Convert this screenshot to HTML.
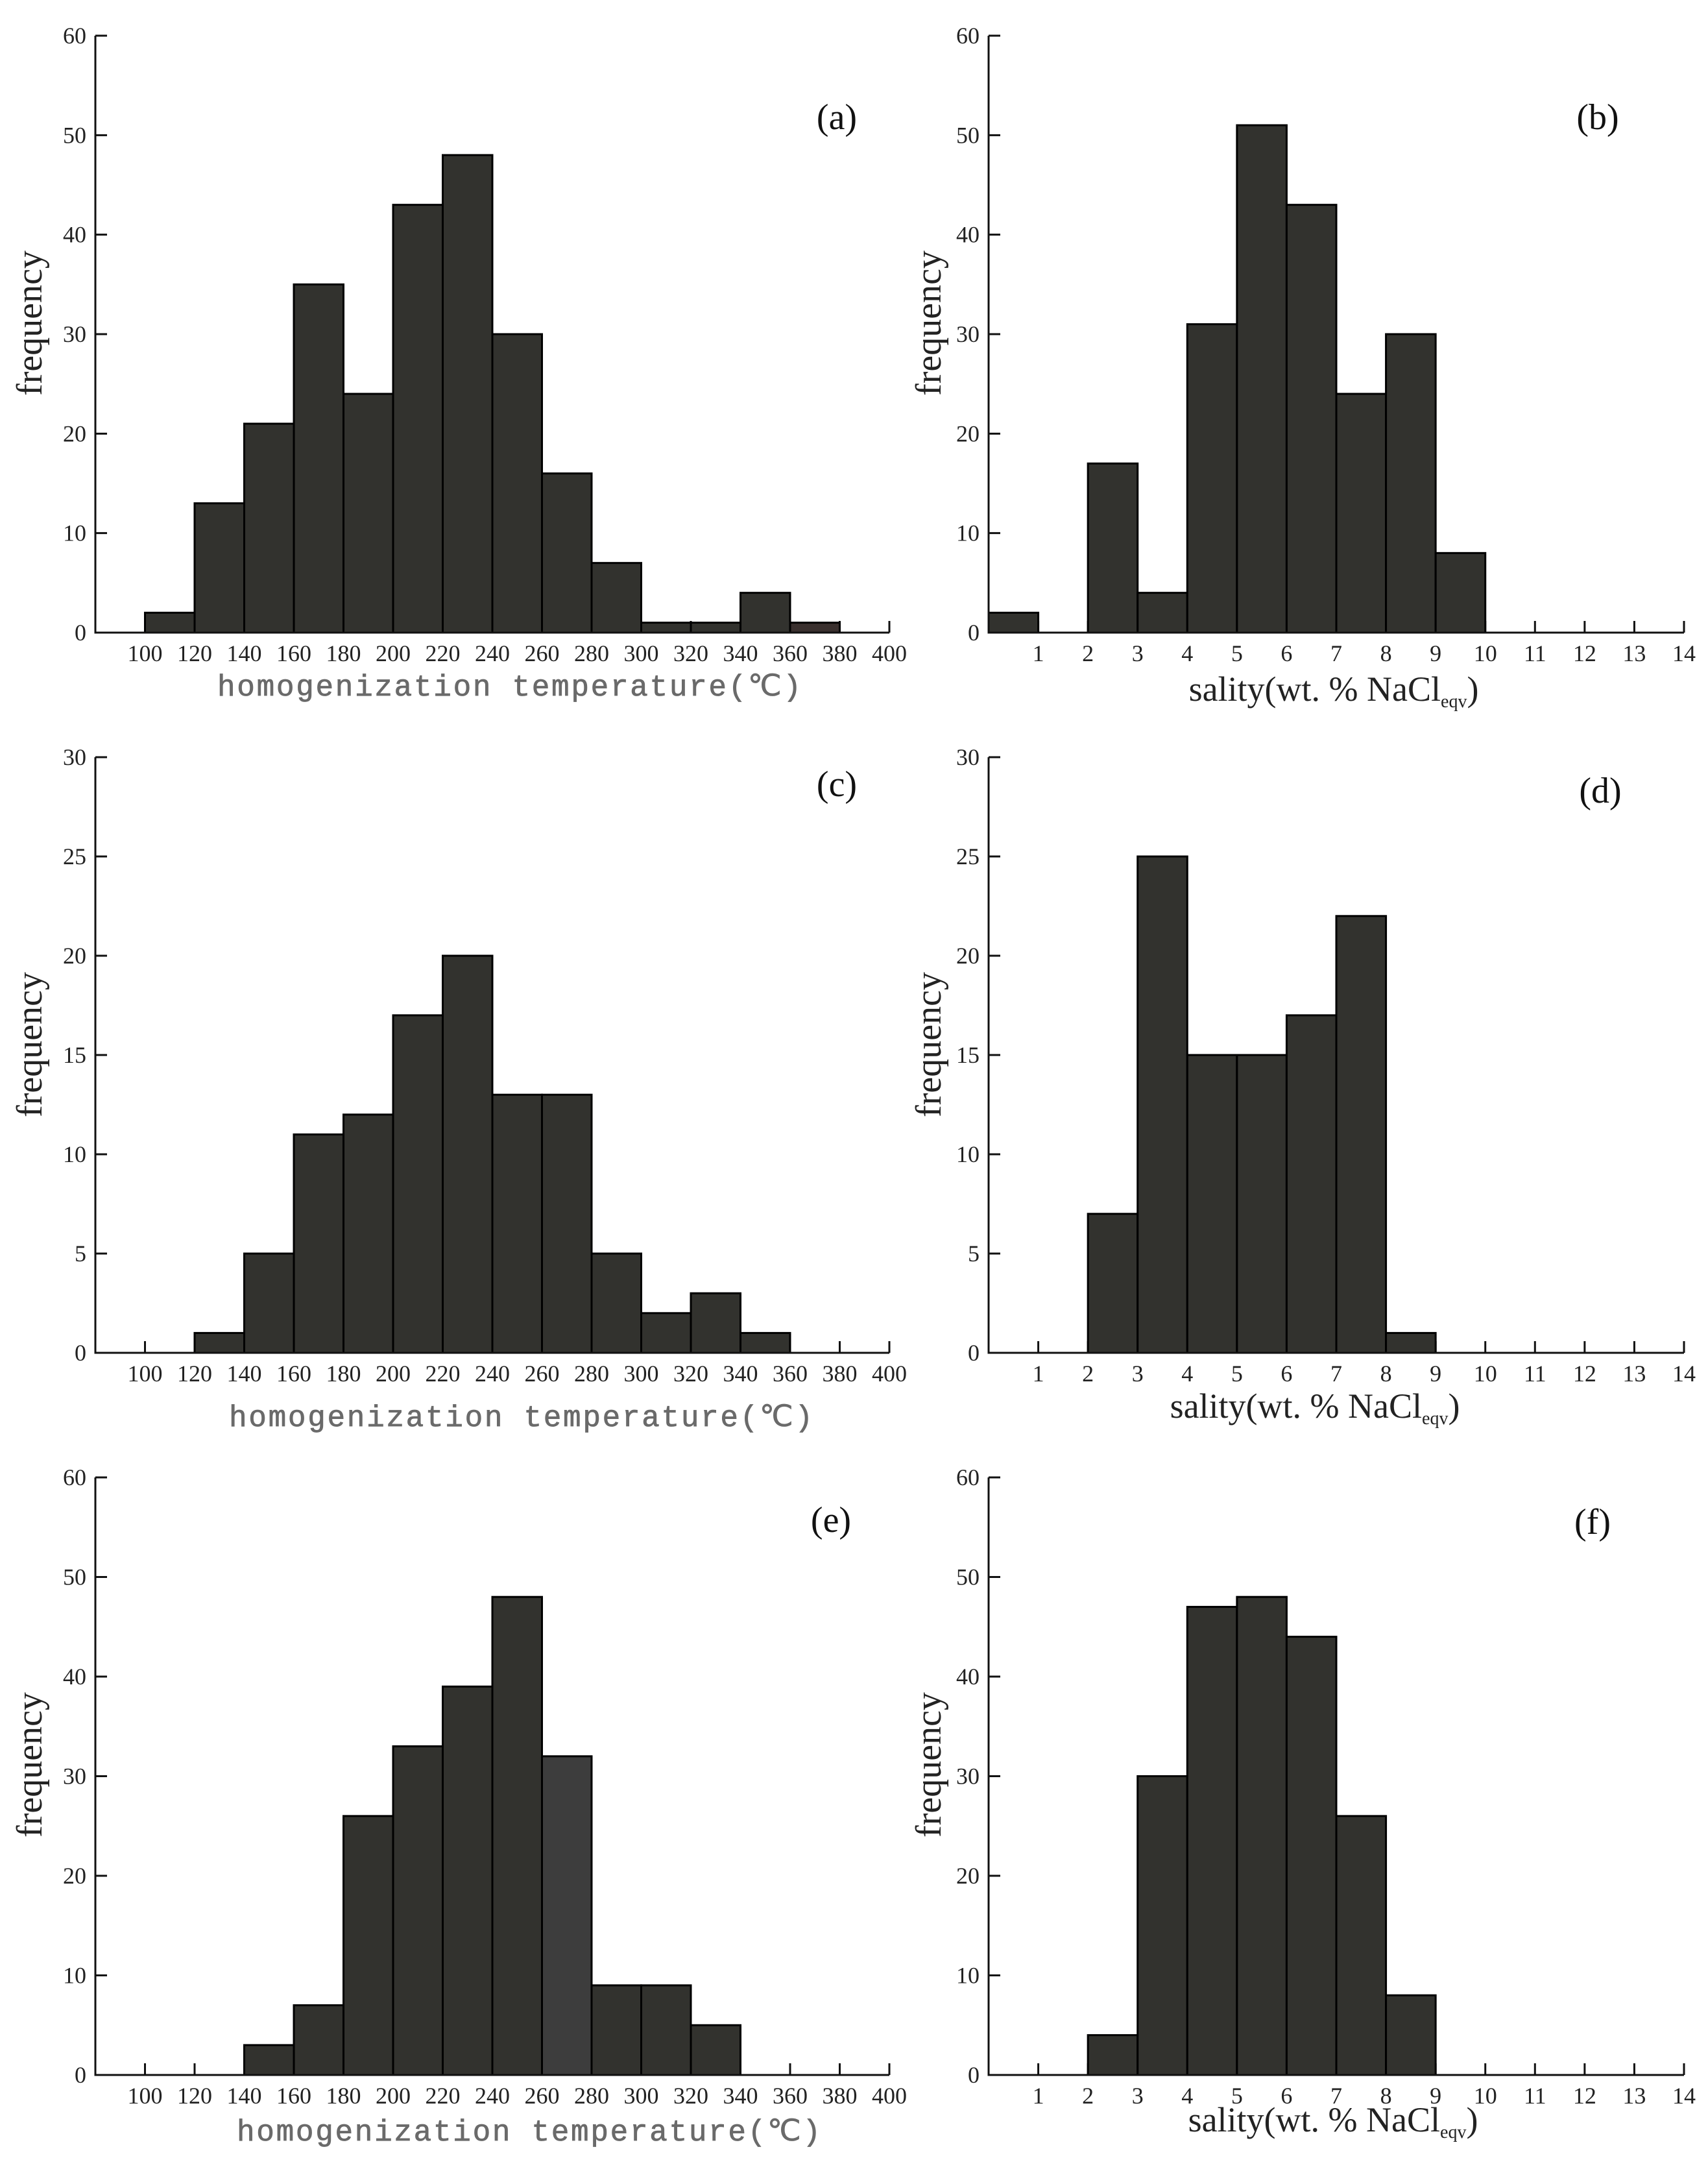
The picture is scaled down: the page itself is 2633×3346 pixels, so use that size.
<!DOCTYPE html>
<html><head><meta charset="utf-8"><style>
html,body{margin:0;padding:0;background:#fff;}
svg{display:block;}
</style></head><body>
<svg id="fig" xmlns="http://www.w3.org/2000/svg" width="2633" height="3346" viewBox="0 0 2633 3346"></svg>
<script>
// ---- data ----
const tempBinStarts = [100,120,140,160,180,200,220,240,260,280,300,320,340,360];
const aCounts = [2,13,21,35,24,43,48,30,16,7,1,1,4,1];
const cBinStarts = [120,140,160,180,200,220,240,260,280,300,320,340];
const cCounts = [1,5,11,12,17,20,13,13,5,2,3,1];
const eBinStarts = [140,160,180,200,220,240,260,280,300,320];
const eCounts = [3,7,26,33,39,48,32,9,9,5];
const bBinStarts = [0,1,2,3,4,5,6,7,8,9];
const bCounts = [2,0,17,4,31,51,43,24,30,8];
const dBinStarts = [2,3,4,5,6,7,8];
const dCounts = [7,25,15,15,17,22,1];
const fBinStarts = [2,3,4,5,6,7,8];
const fCounts = [4,30,47,48,44,26,8];
const tempTicks = [100,120,140,160,180,200,220,240,260,280,300,320,340,360,380,400];
const salTicks = [1,2,3,4,5,6,7,8,9,10,11,12,13,14];
const yTicks60 = [0,10,20,30,40,50,60];
const yTicks30 = [0,5,10,15,20,25,30];

const NS="http://www.w3.org/2000/svg";
const svg=document.getElementById('fig');
function el(tag,attrs,parent){const e=document.createElementNS(NS,tag);for(const k in attrs)e.setAttribute(k,attrs[k]);(parent||svg).appendChild(e);return e;}

function panel(p){
  const g=el('g',{});
  
  
  const xs=v=>p.x0+(v-p.xmin)/(p.xmax-p.xmin)*(p.x1-p.x0);
  const ys=v=>p.y0-(v/p.ymax)*(p.y0-p.yTop);
  p.xticks.forEach(t=>{
    const l=el('line',{x1:xs(t),x2:xs(t),y1:p.y0,y2:p.y0-18,stroke:'#111','stroke-width':3},g);
    
    
    const tx=el('text',{x:xs(t),y:p.y0+44,'text-anchor':'middle','font-family':'Liberation Serif, serif','font-size':36,fill:'#222'},g);
    tx.textContent=t;
    
    
  });
  p.yticks.forEach(t=>{
    const l=el('line',{x1:p.x0,x2:p.x0+18,y1:ys(t),y2:ys(t),stroke:'#111','stroke-width':3},g);
    
    
    const tx=el('text',{x:p.x0-14,y:ys(t)+12,'text-anchor':'end','font-family':'Liberation Serif, serif','font-size':36,fill:'#222'},g);
    tx.textContent=t;
    
    
  });
  p.starts.forEach((s,i)=>{
    const v=p.counts[i]; if(!v) return;
    const xa=xs(s), xb=xs(s+p.bw);
    const r=el('rect',{x:xa,y:ys(v),width:xb-xa,height:p.y0-ys(v),fill:(p.fills&&p.fills[i])||'#32322e',stroke:'#000','stroke-width':3},g);
    
    
  });
  const ax=el('path',{d:`M${p.x0},${p.yTop} V${p.y0} H${p.x1}`,fill:'none',stroke:'#111','stroke-width':3},g);
  
  
  const yt=el('text',{x:0,y:0,transform:`translate(${p.ytx+10},${p.yty}) rotate(-90)`,'text-anchor':'middle','font-family':'Liberation Serif, serif','font-size':56,fill:'#222'},g);
  yt.textContent='frequency';
  
  
  const pl=el('text',{x:p.lx,y:p.ly+18,'text-anchor':'middle','font-family':'Liberation Serif, serif','font-size':56,fill:'#111'},g);
  pl.textContent='('+p.id+')';
  
  
  if(p.kind==='temp'){
    const t=el('text',{x:p.tx,y:p.ty+17,'text-anchor':'middle','font-family':'Liberation Mono, monospace','font-size':46,fill:'#6a6a6a',stroke:'#6a6a6a','stroke-width':0.8,textLength:900,lengthAdjust:'spacing'},g);
    t.textContent='homogenization temperature(℃)';
    
    
  } else {
    const t=el('text',{x:p.tx,y:p.ty+18,'text-anchor':'middle','font-family':'Liberation Serif, serif','font-size':54,fill:'#222'},g);
    
    
    t.appendChild(document.createTextNode('sality(wt. % NaCl'));
    const s=el('tspan',{'font-size':28,dy:10},t);s.textContent='eqv';
    const s2=el('tspan',{dy:-10},t);s2.textContent=')';
  }
}

const L={x0:147,x1:1371,xmin:80,xmax:400,bw:20,xticks:tempTicks,kind:'temp',ytx:54};
const R={x0:1524,x1:2596,xmin:0,xmax:14,bw:1,xticks:salTicks,kind:'sal',ytx:1440};
panel(Object.assign({},L,{id:'a',yTop:55,y0:975,ymax:60,yticks:yTicks60,starts:tempBinStarts,counts:aCounts,fills:{13:'#3a302e'},yty:498,lx:1290,ly:181,tx:785,ty:1055}));
panel(Object.assign({},R,{id:'b',yTop:55,y0:975,ymax:60,yticks:yTicks60,starts:bBinStarts,counts:bCounts,yty:498,lx:2463,ly:181,tx:2056,ty:1062}));
panel(Object.assign({},L,{id:'c',yTop:1167,y0:2085,ymax:30,yticks:yTicks30,starts:cBinStarts,counts:cCounts,yty:1610,lx:1290,ly:1209,tx:803,ty:2181}));
panel(Object.assign({},R,{id:'d',yTop:1167,y0:2085,ymax:30,yticks:yTicks30,starts:dBinStarts,counts:dCounts,yty:1610,lx:2467,ly:1219,tx:2027,ty:2167}));
panel(Object.assign({},L,{id:'e',yTop:2277,y0:3198,ymax:60,yticks:yTicks60,starts:eBinStarts,counts:eCounts,fills:{6:'#3d3d3d'},yty:2720,lx:1281,ly:2343,tx:815,ty:3282}));
panel(Object.assign({},R,{id:'f',yTop:2277,y0:3198,ymax:60,yticks:yTicks60,starts:fBinStarts,counts:fCounts,yty:2720,lx:2455,ly:2346,tx:2055,ty:3267}));
</script>
</body></html>
